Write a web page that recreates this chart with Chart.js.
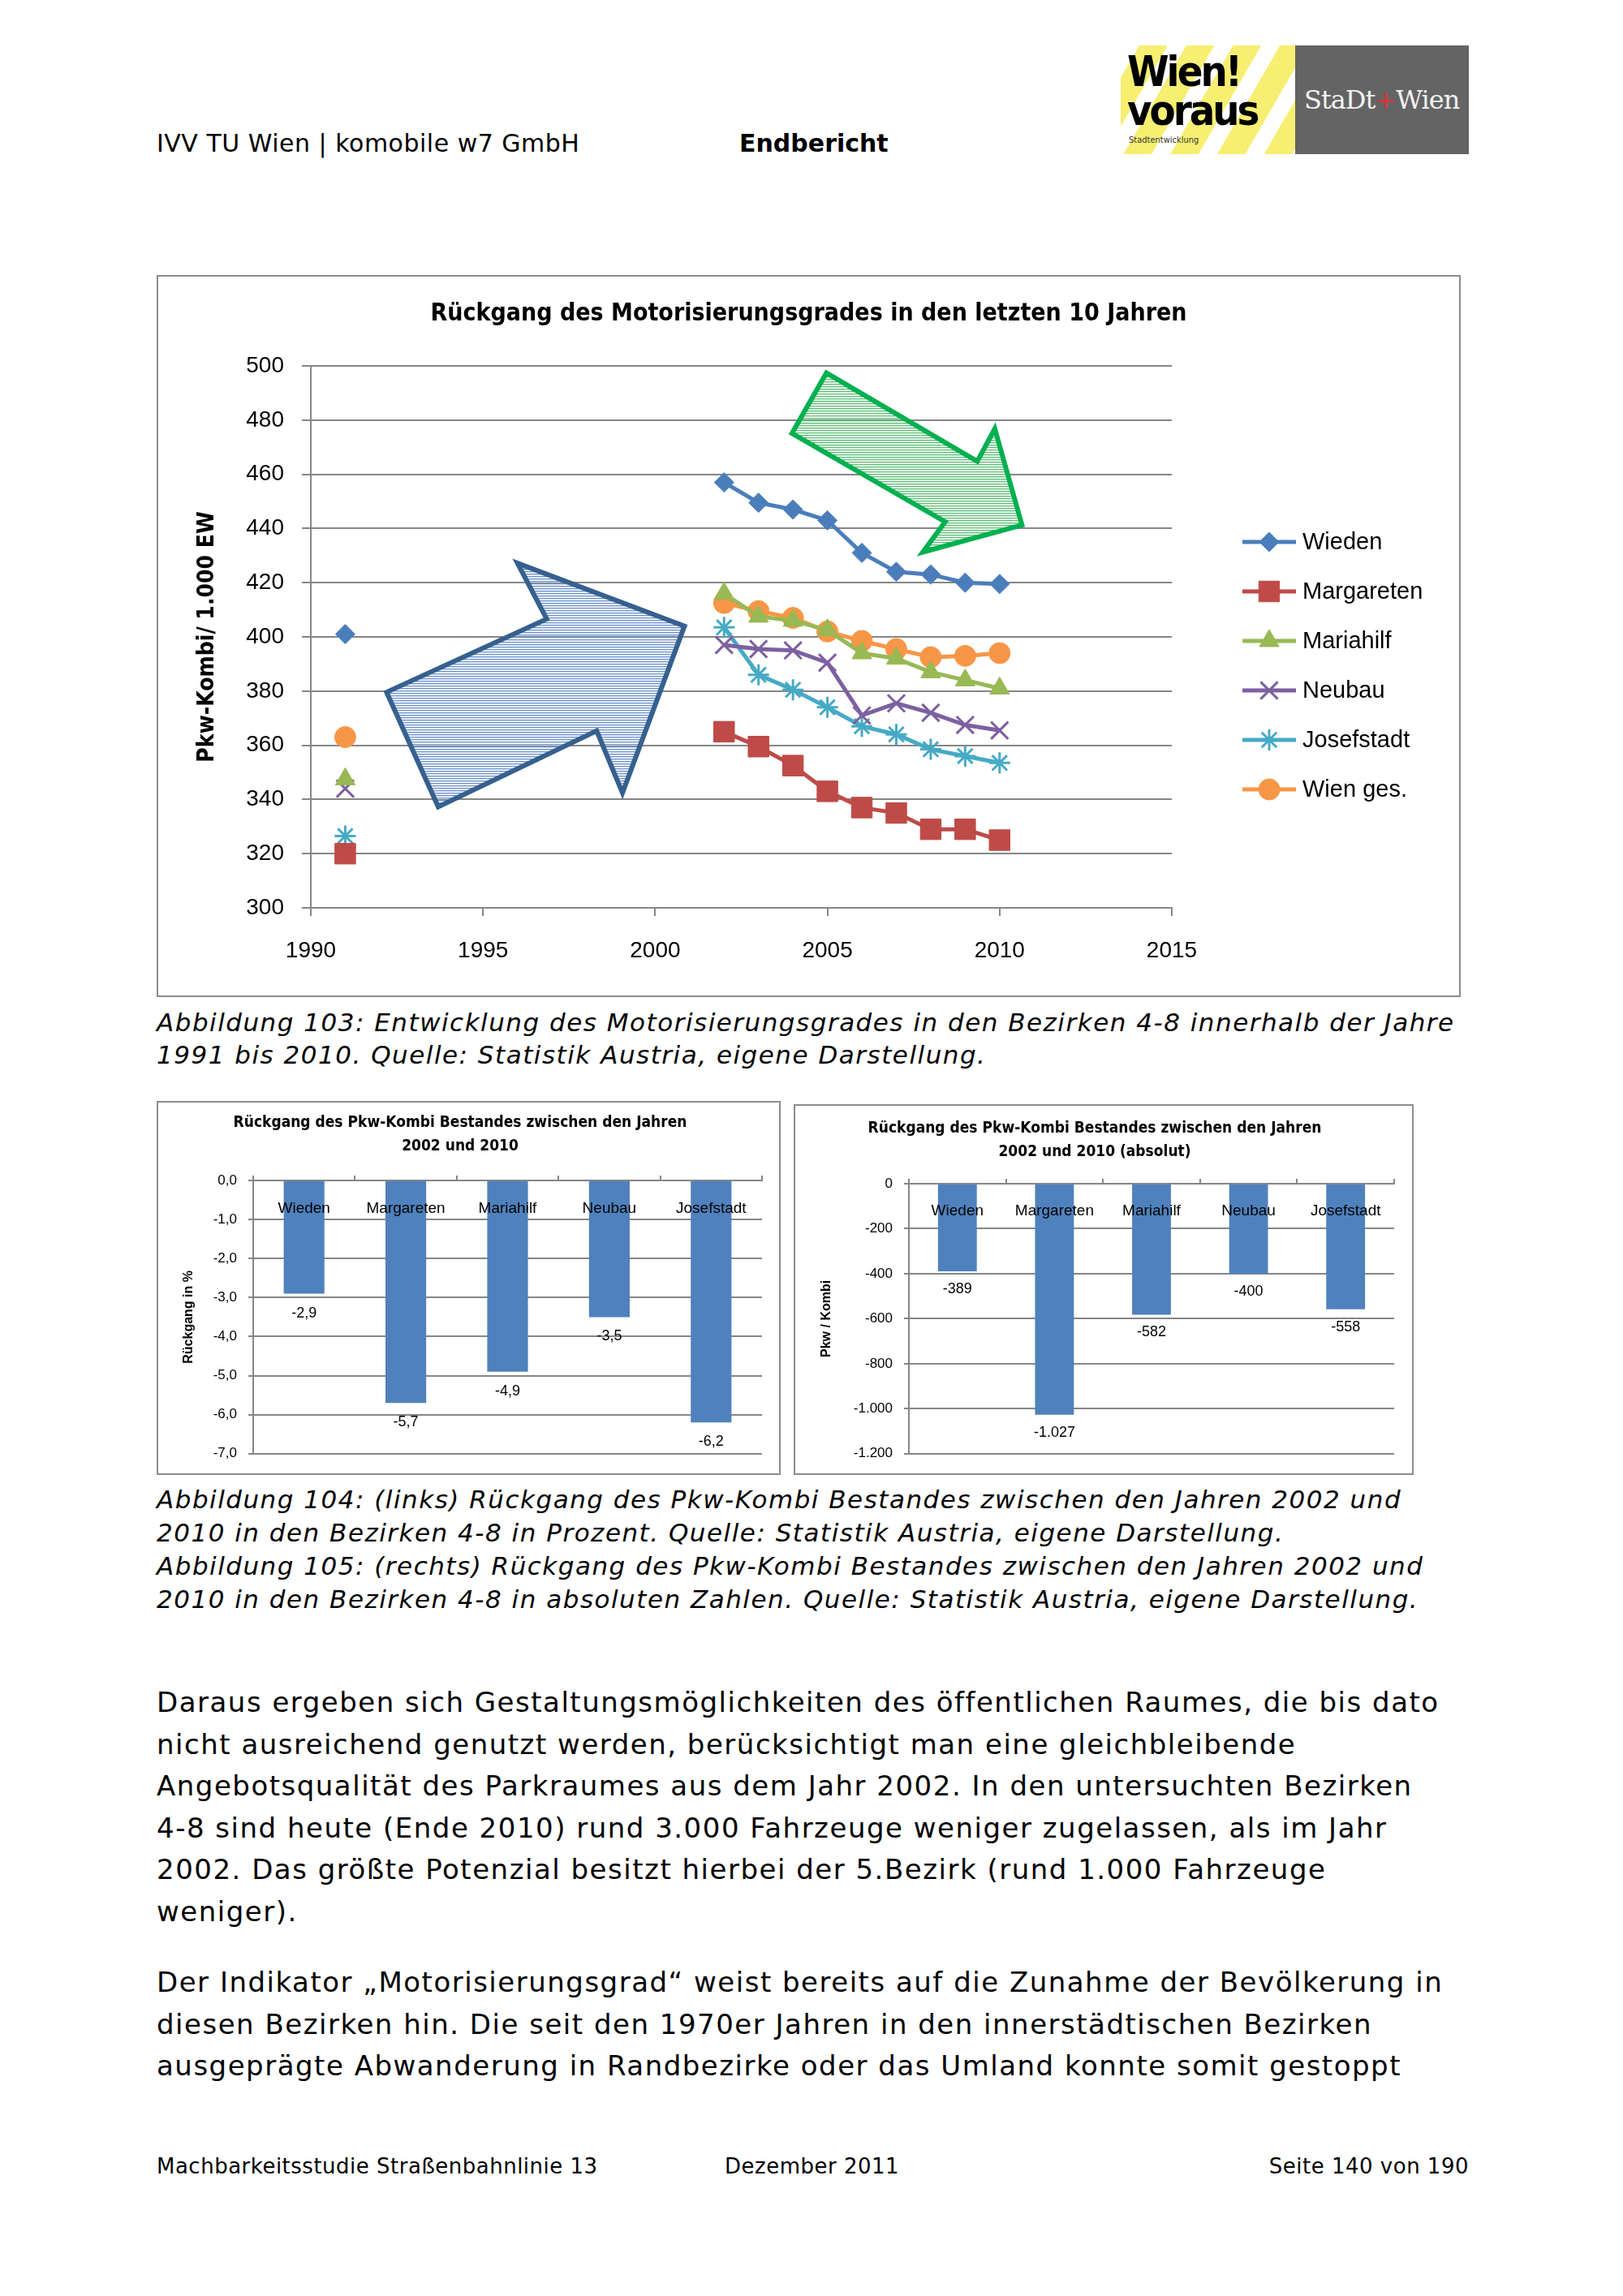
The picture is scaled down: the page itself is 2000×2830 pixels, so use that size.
<!DOCTYPE html>
<html>
<head>
<meta charset="utf-8">
<title>Endbericht - Seite 140</title>
<script src="https://cdn.jsdelivr.net/npm/chart.js@4.4.1/dist/chart.umd.min.js"></script>
<style>
  html, body { margin: 0; padding: 0; background: #fff; }
  body { position: relative; width: 2000px; height: 2830px; overflow: hidden;
         font-family: "DejaVu Sans", Verdana, sans-serif; color: #000; }
  .txt { position: absolute; white-space: nowrap; }
  .frame { position: absolute; border: 2px solid #8c8c8c; box-sizing: border-box; background: #fff; }
  .frame canvas { display: block; }
  .cap { font-style: italic; font-size: 31px; letter-spacing: 1.5px; }
  .body { font-size: 34px; line-height: 51.6px; letter-spacing: 1.5px; }
  .foot { font-size: 26px; line-height: 30px; letter-spacing: 0.5px; }
</style>
</head>
<body>

<!-- header -->
<div class="txt" style="left:193px;top:160px;font-size:30px;line-height:34px;letter-spacing:0.5px">IVV TU Wien | komobile w7 GmbH</div>
<div class="txt" style="left:911px;top:160px;font-size:30px;line-height:34px;font-weight:bold">Endbericht</div>

<div style="position:absolute;left:1381px;top:56px;width:429px;height:134px;overflow:hidden">
  <div style="position:absolute;left:0;top:0;width:215px;height:134px;background:repeating-linear-gradient(120deg,#fff 0 20px,#f7ef72 20px 50px)"></div>
  <div class="txt" style="left:8px;top:4px;font:bold 52px/56px 'DejaVu Sans Condensed','DejaVu Sans';letter-spacing:-3px">Wien!</div>
  <div class="txt" style="left:8px;top:52px;font:bold 52px/56px 'DejaVu Sans Condensed','DejaVu Sans';letter-spacing:-3px">voraus</div>
  <div class="txt" style="left:10px;top:110px;font:11px/14px 'DejaVu Sans Condensed','DejaVu Sans';color:#333">Stadtentwicklung</div>
  <div style="position:absolute;left:215px;top:0;width:214px;height:134px;background:#646464"></div>
  <div class="txt" style="left:226px;top:48px;font:32px/38px 'DejaVu Serif',serif;color:#f2f2f2;letter-spacing:-1px">StaDt<span style="color:#e0323c">+</span>Wien</div>
</div>

<!-- Abbildung 103 -->
<div class="frame" style="left:193px;top:339px;width:1607px;height:890px"><canvas id="chartMoto" width="1603" height="886"></canvas></div>
<div class="txt cap" style="left:193px;top:1240px;line-height:40px">Abbildung 103: Entwicklung des Motorisierungsgrades in den Bezirken 4-8 innerhalb der Jahre<br>1991 bis 2010. Quelle: Statistik Austria, eigene Darstellung.</div>

<!-- Abbildung 104 / 105 -->
<div class="frame" style="left:193px;top:1357px;width:769px;height:461px"><canvas id="chartPct" width="765" height="457"></canvas></div>
<div class="frame" style="left:978px;top:1361px;width:764px;height:457px"><canvas id="chartAbs" width="760" height="453"></canvas></div>
<div class="txt cap" style="left:193px;top:1828px;line-height:41px">Abbildung 104: (links) Rückgang des Pkw-Kombi Bestandes zwischen den Jahren 2002 und<br>2010 in den Bezirken 4-8 in Prozent. Quelle: Statistik Austria, eigene Darstellung.<br>Abbildung 105: (rechts) Rückgang des Pkw-Kombi Bestandes zwischen den Jahren 2002 und<br>2010 in den Bezirken 4-8 in absoluten Zahlen. Quelle: Statistik Austria, eigene Darstellung.</div>

<!-- Fliesstext -->
<div class="txt body" style="left:193px;top:2073px">Daraus ergeben sich Gestaltungsmöglichkeiten des öffentlichen Raumes, die bis dato<br>nicht ausreichend genutzt werden, berücksichtigt man eine gleichbleibende<br>Angebotsqualität des Parkraumes aus dem Jahr 2002. In den untersuchten Bezirken<br>4-8 sind heute (Ende 2010) rund 3.000 Fahrzeuge weniger zugelassen, als im Jahr<br>2002. Das größte Potenzial besitzt hierbei der 5.Bezirk (rund 1.000 Fahrzeuge<br>weniger).</div>
<div class="txt body" style="left:193px;top:2418px">Der Indikator „Motorisierungsgrad“ weist bereits auf die Zunahme der Bevölkerung in<br>diesen Bezirken hin. Die seit den 1970er Jahren in den innerstädtischen Bezirken<br>ausgeprägte Abwanderung in Randbezirke oder das Umland konnte somit gestoppt</div>

<!-- footer -->
<div class="txt foot" style="left:193px;top:2655px">Machbarkeitsstudie Straßenbahnlinie 13</div>
<div class="txt foot" style="left:893px;top:2655px">Dezember 2011</div>
<div class="txt foot" style="right:190px;top:2655px">Seite 140 von 190</div>

<script>
// Motorisierungsgrad (Pkw-Kombi / 1.000 EW)
var years      = [1991, 2002, 2003, 2004, 2005, 2006, 2007, 2008, 2009, 2010];
var wieden     = [401, 457, 449.5, 447, 443, 431, 424, 423, 420, 419.5];
var margareten = [320, 365, 359.5, 352.5, 343, 337, 335, 329, 329, 325];
var mariahilf  = [347.5, 416, 407.5, 406, 402.5, 394, 392, 387, 384, 381];
var neubau     = [344, 397, 395.5, 395, 390.5, 371, 375.5, 372, 367.5, 365.5];
var josefstadt = [326.5, 403.5, 386, 380.5, 374, 367, 364, 358.5, 356, 353.5];
var wienGes    = [363, 412.5, 409.5, 407, 402, 398.5, 395.5, 392.5, 393, 394];

// Rueckgang 2002-2010
var districts  = ['Wieden', 'Margareten', 'Mariahilf', 'Neubau', 'Josefstadt'];
var declinePct = [-2.9, -5.7, -4.9, -3.5, -6.2];
var declineAbs = [-389, -1027, -582, -400, -558];

// arrows drawn on the line chart, corners in (year, value)
var arrowUp   = [[1993.7, 337.3], [1992.2, 379.6], [1996.85, 406.6], [1996.0, 427.2], [2000.85, 404.0], [1999.05, 342.4], [1998.3, 365.3]];
var arrowDown = [[2004.97, 497.4], [2009.35, 464.8], [2009.86, 476.8], [2010.65, 441.3], [2007.77, 431.3], [2008.42, 442.5], [2003.97, 475.1]];

var GRID = '#868686';
var NARROW = "'Liberation Sans Narrow', 'DejaVu Sans Condensed', 'Liberation Sans', sans-serif";
Chart.defaults.font.family = "'Liberation Sans', Arial, sans-serif";
Chart.defaults.color = '#000';

/////////////////////////////////////////////////////////////////////////////
//// line chart

var seriesLabels  = ['Wieden', 'Margareten', 'Mariahilf', 'Neubau', 'Josefstadt', 'Wien ges.'];
var seriesValues  = [wieden, margareten, mariahilf, neubau, josefstadt, wienGes];
var seriesColors  = ['#4a7ebb', '#be4b48', '#98b954', '#7d60a0', '#46aac5', '#f79646'];
var seriesMarkers = ['rectRot', 'rect', 'triangle', 'crossRot', 'star', 'circle'];
var markerRadius  = [12, 18, 14, 15, 13, 13];

var lineSets = seriesValues.map(function(vals, i) {
    var stroked = seriesMarkers[i] == 'crossRot' || seriesMarkers[i] == 'star';
    return {
        label: seriesLabels[i],
        data: years.map(function(y, k) { return {x: y, y: vals[k]}; }),
        borderColor: seriesColors[i],
        backgroundColor: seriesColors[i],
        borderWidth: 5,
        pointStyle: seriesMarkers[i],
        pointRadius: markerRadius[i],
        pointHoverRadius: markerRadius[i],
        pointBackgroundColor: seriesColors[i],
        pointBorderColor: seriesColors[i],
        pointBorderWidth: stroked ? 3 : 1,
        tension: 0,
        // 1991 stands alone, no line to 2002
        segment: {
            borderColor: function(c) { return c.p0DataIndex === 0 ? 'rgba(0,0,0,0)' : undefined; }
        }
    };
});

function hatch(ctx, dark, light) {
    var p = document.createElement('canvas');
    p.width = 6; p.height = 3;
    var g = p.getContext('2d');
    g.fillStyle = dark;  g.fillRect(0, 0, 6, 1);
    g.fillStyle = light; g.fillRect(0, 1, 6, 1);
    return ctx.createPattern(p, 'repeat');
}

var arrowPlugin = {
    id: 'arrows',
    beforeDatasetsDraw: function(chart) {
        var ctx = chart.ctx, xs = chart.scales.x, ys = chart.scales.y;
        function shape(pts, dark, light, edge, w) {
            ctx.save();
            ctx.beginPath();
            pts.forEach(function(p, i) {
                var px = xs.getPixelForValue(p[0]), py = ys.getPixelForValue(p[1]);
                if (i === 0) ctx.moveTo(px, py); else ctx.lineTo(px, py);
            });
            ctx.closePath();
            ctx.fillStyle = hatch(ctx, dark, light);
            ctx.fill();
            ctx.lineJoin = 'miter';
            ctx.strokeStyle = edge;
            ctx.lineWidth = w;
            ctx.stroke();
            ctx.restore();
        }
        shape(arrowUp, '#6b91c7', '#c9d7eb', '#36608f', 6);
        shape(arrowDown, '#5cbf76', '#c3e7cc', '#00b050', 6);
    }
};

// excel style legend: line with marker, then the name
var lineLegend = {
    id: 'lineLegend',
    afterDraw: function(chart) {
        var ctx = chart.ctx;
        var left = 1336, top = 327, gap = 61, len = 66;
        chart.data.datasets.forEach(function(ds, i) {
            var y = top + i * gap;
            ctx.save();
            ctx.strokeStyle = ds.borderColor;
            ctx.lineWidth = ds.borderWidth;
            ctx.beginPath();
            ctx.moveTo(left, y);
            ctx.lineTo(left + len, y);
            ctx.stroke();
            if (Chart.helpers && Chart.helpers.drawPoint) {
                ctx.fillStyle = ds.pointBackgroundColor;
                ctx.strokeStyle = ds.pointBorderColor;
                ctx.lineWidth = ds.pointBorderWidth;
                Chart.helpers.drawPoint(ctx, {pointStyle: ds.pointStyle, radius: ds.pointRadius,
                    borderWidth: ds.pointBorderWidth, rotation: 0}, left + len / 2, y);
            }
            ctx.fillStyle = '#000';
            ctx.font = "29px 'Liberation Sans', Arial, sans-serif";
            ctx.textBaseline = 'middle';
            ctx.fillText(ds.label, left + len + 8, y + 1);
            ctx.restore();
        });
    }
};

var ctxMoto = document.getElementById('chartMoto').getContext('2d');
var chartMoto = new Chart(ctxMoto, {
    type: 'line',
    data: { datasets: lineSets },
    options: {
        responsive: false,
        animation: false,
        events: [],
        plugins: {
            legend: { display: false },
            tooltip: { enabled: false },
            title: {
                display: true,
                text: 'Rückgang des Motorisierungsgrades in den letzten 10 Jahren',
                color: '#000',
                font: { family: NARROW, size: 30, weight: 'bold' },
                padding: { top: 28, bottom: 46 }
            }
        },
        scales: {
            x: {
                type: 'linear',
                min: 1990, max: 2015,
                afterFit: function(s) { s.height = 108; },
                ticks: { stepSize: 5, padding: 26, font: { size: 28 },
                         callback: function(v) { return String(v); } },
                grid: { drawOnChartArea: false, tickLength: 10, color: GRID, lineWidth: 2 },
                border: { color: GRID, width: 2 }
            },
            y: {
                min: 300, max: 500,
                afterFit: function(s) { s.width = 188; },
                ticks: { stepSize: 20, padding: 22, font: { size: 28 } },
                grid: { tickLength: 11, color: GRID, lineWidth: 2 },
                border: { color: GRID, width: 2 },
                title: {
                    display: true,
                    text: 'Pkw-Kombi/ 1.000 EW',
                    font: { family: NARROW, size: 28, weight: 'bold' },
                    padding: { top: 44, bottom: 0 }
                }
            },
            // empty axis on the right keeps room for the legend
            side: {
                type: 'linear',
                position: 'right',
                afterFit: function(s) { s.width = 354; },
                ticks: { display: false },
                grid: { display: false },
                border: { display: false }
            }
        }
    },
    plugins: [arrowPlugin, lineLegend]
});

/////////////////////////////////////////////////////////////////////////////
//// bar charts

function fmtPct(v) { return v.toFixed(1).replace('.', ','); }
function fmtAbs(v) {
    var s = String(Math.abs(v)).replace(/\B(?=(\d{3})+(?!\d))/g, '.');
    return (v < 0 ? '-' : '') + s;
}

function barLabels(fmt, catOffset, valOffset) {
    return {
        id: 'barLabels',
        afterDatasetsDraw: function(chart) {
            var ctx = chart.ctx;
            var meta = chart.getDatasetMeta(0);
            var vals = chart.data.datasets[0].data;
            var y0 = chart.scales.y.getPixelForValue(0);
            ctx.save();
            ctx.textAlign = 'center';
            ctx.textBaseline = 'middle';
            ctx.fillStyle = '#000';
            meta.data.forEach(function(bar, i) {
                ctx.font = "19px 'Liberation Sans', Arial, sans-serif";
                ctx.fillText(chart.data.labels[i], bar.x, y0 + catOffset);
                ctx.font = "18px 'Liberation Sans', Arial, sans-serif";
                ctx.fillText(fmt(vals[i]), bar.x, bar.y + valOffset);
            });
            ctx.restore();
        }
    };
}

function barOptions(title, titlePad, yTitle, yTitlePad, yWidth, yMin, yStep, fmt, pad) {
    return {
        responsive: false,
        animation: false,
        events: [],
        layout: { padding: pad },
        plugins: {
            legend: { display: false },
            tooltip: { enabled: false },
            title: {
                display: true,
                text: title,
                color: '#000',
                font: { family: NARROW, size: 19, weight: 'bold', lineHeight: 1.5 },
                padding: titlePad
            }
        },
        scales: {
            x: {
                position: 'top',
                offset: true,
                afterFit: function(s) { s.height = 12; },
                ticks: { display: false },
                grid: { offset: true, drawOnChartArea: false, tickLength: 6, color: GRID, lineWidth: 2 },
                border: { color: GRID, width: 2 }
            },
            y: {
                min: yMin, max: 0,
                afterFit: function(s) { s.width = yWidth; },
                ticks: { stepSize: yStep, padding: 14, font: { size: 17 }, callback: function(v) { return fmt(v); } },
                grid: { tickLength: 6, color: GRID, lineWidth: 2 },
                border: { color: GRID, width: 2 },
                title: {
                    display: true,
                    text: yTitle,
                    font: { size: 16, weight: 'bold' },
                    padding: { top: yTitlePad, bottom: 0 }
                }
            }
        }
    };
}

var ctxPct = document.getElementById('chartPct').getContext('2d');
var chartPct = new Chart(ctxPct, {
    type: 'bar',
    data: {
        labels: districts,
        datasets: [{ data: declinePct, backgroundColor: '#4f81bd', borderWidth: 0,
                     barPercentage: 0.4, categoryPercentage: 1.0 }]
    },
    options: barOptions(['Rückgang des Pkw-Kombi Bestandes zwischen den Jahren', '2002 und 2010'],
        { top: 11, bottom: 16 }, 'Rückgang in %', 28, 117, -7, 1, fmtPct,
        { left: 0, right: 21, top: 0, bottom: 22 }),
    plugins: [barLabels(fmtPct, 35, 24)]
});

var ctxAbs = document.getElementById('chartAbs').getContext('2d');
var chartAbs = new Chart(ctxAbs, {
    type: 'bar',
    data: {
        labels: districts,
        datasets: [{ data: declineAbs, backgroundColor: '#4f81bd', borderWidth: 0,
                     barPercentage: 0.4, categoryPercentage: 1.0 }]
    },
    options: barOptions(['Rückgang des Pkw-Kombi Bestandes zwischen den Jahren', '2002 und 2010 (absolut)'],
        { top: 14, bottom: 13 }, 'Pkw / Kombi', 29, 140, -1200, 200, fmtAbs,
        { left: 0, right: 22, top: 0, bottom: 21 }),
    plugins: [barLabels(fmtAbs, 34, 22)]
});
</script>
</body>
</html>
